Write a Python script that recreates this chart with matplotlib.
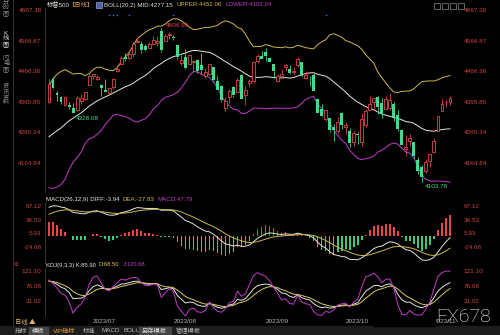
import numpy as np
import pandas as pd
import matplotlib
matplotlib.use('Agg')
import matplotlib.pyplot as plt
from matplotlib.patches import Rectangle
import matplotlib.transforms as mtransforms

plt.rcParams['font.family'] = ['Liberation Sans', 'Noto Sans CJK SC', 'DejaVu Sans']

W, H = 500, 335

# closes before the first visible candle (2023-03-01 .. 2023-06-14), used for indicator warm-up
hist_close = [
    3951.39, 3981.35, 4045.64, 4048.42, 3986.37, 3992.01, 3918.32, 3861.59, 3855.76, 3919.29,
    3891.93, 3960.28, 3916.64, 3951.57, 4002.87, 3936.97, 3948.72, 3970.99, 3977.53, 3971.27,
    4027.81, 4050.83, 4109.31,
    4124.51, 4100.60, 4090.38, 4105.02, 4109.11, 4108.94, 4091.95, 4146.22, 4137.64, 4151.32,
    4154.87, 4154.52, 4129.79, 4133.52, 4137.04, 4071.63, 4055.99, 4135.35, 4169.48,
    4167.87, 4119.58, 4090.75, 4061.22, 4136.25, 4138.12, 4119.17, 4137.64, 4130.62, 4124.08,
    4136.28, 4109.90,
    4158.77, 4198.05, 4191.98, 4192.63, 4145.58, 4115.24, 4151.28, 4205.45, 4205.52, 4179.83,
    4221.02, 4282.37, 4273.79, 4283.85, 4267.52, 4293.93, 4298.86, 4338.93, 4369.01, 4372.59,
]
# highs / lows of the last 20 history days (2023-05-17 .. 2023-06-14)
hist_high = [
    4164.67, 4202.20, 4212.91, 4209.22, 4186.18, 4132.96, 4165.74, 4212.87, 4231.10, 4192.92,
    4232.43, 4290.67, 4299.28, 4288.33, 4299.19, 4298.01, 4322.62, 4340.13, 4375.37, 4391.82,
]
hist_low = [
    4113.62, 4153.50, 4180.20, 4179.68, 4142.43, 4109.29, 4129.73, 4156.16, 4192.18, 4165.38,
    4171.64, 4241.01, 4266.82, 4263.09, 4263.96, 4261.07, 4291.70, 4297.74, 4349.31, 4337.85,
]

# visible daily candles, 2023-06-15 .. 2023-11-07
holidays = ['2023-06-19', '2023-07-04', '2023-09-04']
open_ = [
    4365.33, 4440.95, 4396.11, 4380.01, 4355.40, 4354.17, 4344.84, 4337.36, 4367.48, 4374.94, 4422.44,
    4450.48, 4442.04, 4422.62, 4404.54, 4394.23, 4415.55, 4467.69, 4491.50, 4514.61, 4508.86,
    4521.78, 4563.87, 4554.38, 4550.16, 4543.39, 4555.19, 4558.96, 4598.26, 4565.75, 4584.82,
    4578.83, 4550.93, 4494.27, 4513.96, 4491.58, 4498.03, 4501.57, 4487.16, 4450.69, 4458.13,
    4478.87, 4433.79, 4416.32, 4344.88, 4380.28, 4415.33, 4396.44, 4455.16, 4389.38, 4426.03,
    4432.75, 4500.34, 4517.01,
    4530.60, 4510.06, 4490.35, 4434.55, 4451.30, 4480.98, 4473.27, 4462.65, 4487.78, 4497.98,
    4445.13, 4445.41, 4452.81, 4374.36, 4341.74, 4310.62, 4312.88, 4282.63, 4269.65, 4328.18,
    4284.52, 4269.75, 4233.83, 4259.31, 4234.79, 4289.02, 4339.75, 4366.59, 4380.94, 4360.49,
    4342.37, 4345.23, 4357.35, 4321.36, 4273.85, 4210.40, 4235.79, 4232.42, 4175.99, 4152.93,
    4139.39, 4171.33,
    4201.27, 4268.26, 4334.23, 4364.27, 4366.21,
]
high = [
    4439.20, 4448.47, 4400.15, 4386.22, 4382.25, 4366.55, 4362.06, 4384.42, 4390.35, 4398.39, 4458.48,
    4456.46, 4454.06, 4422.62, 4440.39, 4412.60, 4443.64, 4488.34, 4517.38, 4527.76, 4532.85,
    4562.30, 4578.43, 4564.74, 4555.00, 4563.41, 4580.62, 4582.47, 4606.99, 4590.16, 4594.22,
    4584.62, 4550.93, 4519.49, 4540.34, 4519.84, 4503.31, 4502.44, 4527.37, 4476.23, 4490.33,
    4478.87, 4449.95, 4421.17, 4381.82, 4407.55, 4418.59, 4443.18, 4458.30, 4418.46, 4439.56,
    4500.14, 4521.65, 4532.26,
    4541.25, 4514.29, 4490.35, 4457.81, 4473.53, 4490.77, 4487.11, 4479.39, 4511.99, 4497.98,
    4466.36, 4449.85, 4461.03, 4375.70, 4357.40, 4338.51, 4313.01, 4292.07, 4317.27, 4333.15,
    4300.58, 4281.15, 4268.50, 4267.13, 4324.10, 4341.73, 4385.46, 4378.64, 4385.85, 4377.10,
    4383.33, 4393.57, 4364.20, 4339.54, 4276.56, 4255.84, 4259.38, 4232.42, 4183.60, 4156.70,
    4177.47, 4195.55,
    4245.64, 4319.72, 4373.62, 4372.21, 4386.26,
]
low = [
    4362.60, 4407.44, 4367.19, 4360.14, 4351.82, 4341.34, 4328.08, 4335.00, 4360.22, 4371.97, 4422.44,
    4442.29, 4436.61, 4385.05, 4397.40, 4389.92, 4408.46, 4463.23, 4489.36, 4499.56, 4504.90,
    4514.59, 4557.48, 4527.56, 4532.68, 4541.29, 4552.42, 4547.58, 4528.56, 4564.01, 4573.14,
    4567.53, 4505.75, 4485.54, 4474.55, 4491.15, 4464.39, 4461.33, 4457.92, 4443.98, 4453.44,
    4432.19, 4403.55, 4364.83, 4335.31, 4360.30, 4382.77, 4396.44, 4375.55, 4356.29, 4414.98,
    4431.68, 4493.59, 4507.39,
    4501.35, 4496.01, 4442.38, 4430.46, 4448.38, 4467.89, 4456.83, 4453.52, 4478.69, 4447.21,
    4442.11, 4416.61, 4401.38, 4329.17, 4316.49, 4302.70, 4265.98, 4238.63, 4264.38, 4274.86,
    4260.21, 4216.45, 4220.48, 4225.91, 4219.55, 4283.79, 4339.64, 4345.34, 4325.43, 4311.97,
    4342.37, 4337.54, 4303.84, 4269.69, 4223.03, 4189.22, 4219.43, 4181.42, 4127.90, 4103.78,
    4132.94, 4153.12,
    4197.74, 4268.26, 4334.23, 4347.53, 4355.41,
]
close = [
    4425.84, 4409.59, 4388.71, 4365.69, 4381.89, 4348.33, 4328.82, 4378.41, 4376.86, 4396.44, 4450.38,
    4455.59, 4446.82, 4411.59, 4398.95, 4409.53, 4439.26, 4472.16, 4510.04, 4505.42, 4522.79,
    4554.98, 4565.72, 4534.87, 4536.34, 4554.64, 4567.46, 4566.75, 4537.41, 4582.23, 4588.96,
    4576.73, 4513.39, 4501.89, 4478.03, 4518.44, 4499.38, 4467.71, 4468.83, 4464.05, 4489.72,
    4437.86, 4404.33, 4370.36, 4369.71, 4399.77, 4387.55, 4436.01, 4376.31, 4405.71, 4433.31,
    4497.63, 4514.87, 4507.66,
    4515.77, 4496.83, 4465.48, 4451.14, 4457.49, 4487.46, 4461.90, 4467.44, 4505.10, 4450.32,
    4453.53, 4443.95, 4402.20, 4330.00, 4320.06, 4337.44, 4273.53, 4274.51, 4299.70, 4288.05,
    4288.39, 4229.45, 4263.75, 4258.19, 4308.50, 4335.66, 4358.24, 4376.95, 4349.61, 4327.78,
    4373.63, 4373.20, 4314.60, 4278.00, 4224.16, 4217.04, 4247.68, 4186.77, 4137.23, 4117.37,
    4166.82, 4193.80,
    4237.86, 4317.78, 4358.34, 4365.98, 4378.38,
]
event_idx = [15, 16, 17, 20, 31, 69]

price_ticks = [4164.84, 4265.34, 4365.85, 4466.36, 4566.87, 4667.38]
macd_ticks = [-24.66, 5.93, 36.53, 67.12]
kdj_ticks = [31.02, 76.06, 121.10]

RED = '#e8464a'
GREEN = '#3fdc92'
BAR_GREEN = '#3cc87e'
AXRED = '#cf4444'
WHITE = '#e6e6dc'
YEL = '#cdb84c'
MAG = '#c43ccc'
GRAY = '#b4b4b4'

dates = pd.bdate_range('2023-06-15', '2023-11-07')
dates = dates[~dates.isin(pd.to_datetime(holidays))]
x = np.arange(len(close))

# ---- indicators ----
nh = len(hist_close)
c_all = pd.Series(hist_close + close)
mid = c_all.rolling(20).mean()
sd = c_all.rolling(20).std()
upper = (mid + 2 * sd).values[nh:]
lower = (mid - 2 * sd).values[nh:]
mid = mid.values[nh:]

ema12 = c_all.ewm(span=12, adjust=False).mean()
ema26 = c_all.ewm(span=26, adjust=False).mean()
dif = ema12 - ema26
dea = dif.ewm(span=9, adjust=False).mean()
hist_bar = (2 * (dif - dea)).values[nh:]
dif = dif.values[nh:]
dea = dea.values[nh:]

nk = len(hist_high)
hk = pd.Series(hist_high + high)
lk = pd.Series(hist_low + low)
ck = pd.Series(hist_close[-nk:] + close)
llv = lk.rolling(9, min_periods=1).min()
hhv = hk.rolling(9, min_periods=1).max()
rsv = (ck - llv) / (hhv - llv) * 100
k = rsv.ewm(alpha=1 / 3, adjust=False).mean()
d = k.ewm(alpha=1 / 3, adjust=False).mean()
j = 3 * k - 2 * d
k, d, j = k.values[nk:], d.values[nk:], j.values[nk:]


def add_ax(fig, x0, y0, x1, y1):
    ax = fig.add_axes([x0 / W, 1 - y1 / H, (x1 - x0) / W, (y1 - y0) / H])
    ax.set_facecolor('black')
    for s in ['top', 'right', 'bottom']:
        ax.spines[s].set_visible(False)
    ax.spines['left'].set_color('#3c3c3c')
    ax.spines['left'].set_linewidth(0.6)
    ax.set_xlim(-1.0, 102.5)
    ax.tick_params(axis='y', length=0, labelsize=4.6, labelcolor=AXRED,
                   labelleft=True, labelright=True, pad=2.5)
    ax.tick_params(axis='x', length=0)
    ax.set_xticks([])
    return ax


def ptext(xp, yp, s, **kw):
    kw.setdefault('fontsize', 4.6)
    kw.setdefault('va', 'center')
    return fig.text(xp / W, 1 - yp / H, s, **kw)


def row_text(xp, yp, parts, size, gap=3.0):
    # lay out coloured pieces one after another so they never overlap
    r = fig.canvas.get_renderer()
    for s, col in parts:
        t = ptext(xp, yp, s, color=col, fontsize=size)
        xp += t.get_window_extent(r).width + gap


def set_ticks(ax, ticks):
    ax.set_yticks(ticks)
    ax.set_yticklabels([f'{v:.2f}' for v in ticks])


fig = plt.figure(figsize=(W / 100, H / 100), dpi=100)
fig.patch.set_facecolor('black')

# ---- price panel ----
ax = add_ax(fig, 45, 8, 460, 192)
ax.set_ylim(4069.5, 4673.95)
set_ticks(ax, price_ticks)

ax.plot(x, upper, color=YEL, lw=0.7, zorder=1)
ax.plot(x, mid, color=WHITE, lw=0.7, zorder=1)
ax.plot(x, lower, color=MAG, lw=0.7, zorder=1)

o, h, l, c = map(np.array, (open_, high, low, close))
up = c >= o
lo_b = np.minimum(o, c)
hi_b = np.maximum(o, c)
cols = np.where(up, RED, GREEN)
ax.vlines(x, l, lo_b, colors=cols, lw=0.6, zorder=2)
ax.vlines(x, hi_b, h, colors=cols, lw=0.6, zorder=2)
ax.bar(x[up], np.maximum(hi_b - lo_b, 1.5)[up], bottom=lo_b[up], width=0.72,
       facecolor='black', edgecolor=RED, linewidth=0.6, zorder=3)
ax.bar(x[~up], np.maximum(hi_b - lo_b, 1.5)[~up], bottom=lo_b[~up], width=0.72,
       color=GREEN, linewidth=0, zorder=3)

ih = int(np.argmax(h))
ax.annotate(f'{h[ih]:.2f}', (ih, h[ih]), xytext=(3, 2), textcoords='offset points',
            color=RED, fontsize=4.6, va='center', ha='left')
lows_to_mark = [6, int(np.argmin(l))]
for il in lows_to_mark:
    ax.annotate(f'{l[il]:.2f}', (il, l[il]), xytext=(2, -3.5), textcoords='offset points',
                color=GREEN, fontsize=4.6, va='center', ha='left')

trans = mtransforms.blended_transform_factory(ax.transData, ax.transAxes)
ax.scatter(event_idx, [0.96] * len(event_idx), s=1.2, color='#3a78d8', transform=trans,
           zorder=4, linewidths=0)

# ---- MACD panel ----
ax2 = add_ax(fig, 45, 202, 460, 263)
ax2.set_ylim(-61.07, 76.1)
set_ticks(ax2, macd_ticks)
pos = hist_bar >= 0
ax2.bar(x[pos], hist_bar[pos], width=0.4, color=RED, linewidth=0, zorder=1)
ax2.bar(x[~pos], hist_bar[~pos], width=0.4, color=BAR_GREEN, linewidth=0, zorder=1)
ax2.plot(x, dif, color=WHITE, lw=0.7, zorder=2)
ax2.plot(x, dea, color=YEL, lw=0.7, zorder=2)

# ---- KDJ panel ----
ax3 = add_ax(fig, 45, 268, 460, 316)
ax3.set_ylim(-14.0, 130.1)
set_ticks(ax3, kdj_ticks)
ax3.plot(x, k, color=WHITE, lw=0.7)
ax3.plot(x, d, color='#d8cc60', lw=0.7)
ax3.plot(x, j, color=MAG, lw=0.7)

month_idx = [i for i in range(1, len(dates)) if dates[i].month != dates[i - 1].month]
ax3.set_xticks(month_idx)
ax3.set_xticklabels([dates[i].strftime('%Y/%m') for i in month_idx], ha='left')
ax3.tick_params(axis='x', labelsize=4.6, labelcolor=GRAY, pad=2.5)

# ---- frame decorations ----
fig.patches.append(Rectangle((0, 0), 1, 9 / H, transform=fig.transFigure,
                             color='#1c1c1c', zorder=0))
fig.lines.append(plt.Line2D([12.5 / W] * 2, [9 / H, 1], transform=fig.transFigure,
                            color='#3c3c3c', lw=0.6))

side = [('分\n时\n图', 8, '#8c8c8c'), ('K\n线\n图', 39, '#e0e0e0'),
        ('闪\n电\n图', 64, '#8c8c8c'), ('资\n讯\n资\n料', 94, '#8c8c8c')]
for s, yy, col in side:
    ptext(6, yy, s, color=col, ha='center', fontsize=4.5, linespacing=1.05)

# header rows
fig.patches.append(Rectangle((96 / W, 1 - 8 / H), 6 / W, 6 / H, transform=fig.transFigure,
                             facecolor='#5060a8', edgecolor='#c0c0ff', lw=0.4))
row_text(47, 5, [('标普500', WHITE)], 4.5, gap=0)
row_text(69, 5, [('【日线】', '#e0a040')], 4.5)
row_text(104, 5, [('BOLL(20,2) MID:4277.15', WHITE), ('UPPER:4452.06', YEL),
                  ('LOWER:4102.24', MAG)], 4.45, gap=4)
for xi in [434, 442, 450, 458]:
    fig.patches.append(Rectangle((xi / W, 1 - 8.5 / H), 6 / W, 6 / H, transform=fig.transFigure,
                                 facecolor='none', edgecolor='#8a8a8a', lw=0.5))

row_text(46, 200, [('MACD(26,12,9) DIFF:-3.94', WHITE), ('DEA:-27.83', YEL),
                   ('MACD:47.79', MAG)], 4.4, gap=3)

ptext(14, 265, '⚙', color='#d05050', family='DejaVu Sans', fontsize=4)
row_text(46, 265, [('KDJ(9,3,3) K:85.90', WHITE), ('D:68.50', '#d8cc60'),
                   ('J:120.68', MAG)], 4.2, gap=3)

ptext(15, 322, '日线 ▲', color='#e8b878', family=['Noto Sans CJK SC', 'DejaVu Sans'])

# bottom toolbar
buttons = [('指标', 15, GRAY, None), ('模板', 32, '#e0e0e0', (29, 48)),
           ('VIP指标', 53, '#e8a040', None), ('标准', 83, GRAY, None),
           ('MACD', 101, GRAY, None), ('BOLL', 123, GRAY, None),
           ('另存模板', 142, '#e0e0e0', (139, 171)), ('管理模板', 176, GRAY, None)]
for s, xx, col, box in buttons:
    if box:
        fig.patches.append(Rectangle((box[0] / W, 0), (box[1] - box[0]) / W, 8 / H,
                                     transform=fig.transFigure, color='#454545', zorder=0))
    ptext(xx, 331, s, color=col, fontsize=4.5)

fig.patches.append(Rectangle((373 / W, 1 - 326 / H), 62 / W, 9 / H, transform=fig.transFigure,
                             color='black', zorder=5))
ptext(436, 317, 'FX678', color='white', fontsize=14, zorder=6,
      family=['Roboto', 'DejaVu Sans'], weight='light')

fig.savefig('out.png', dpi=100, facecolor='black')
